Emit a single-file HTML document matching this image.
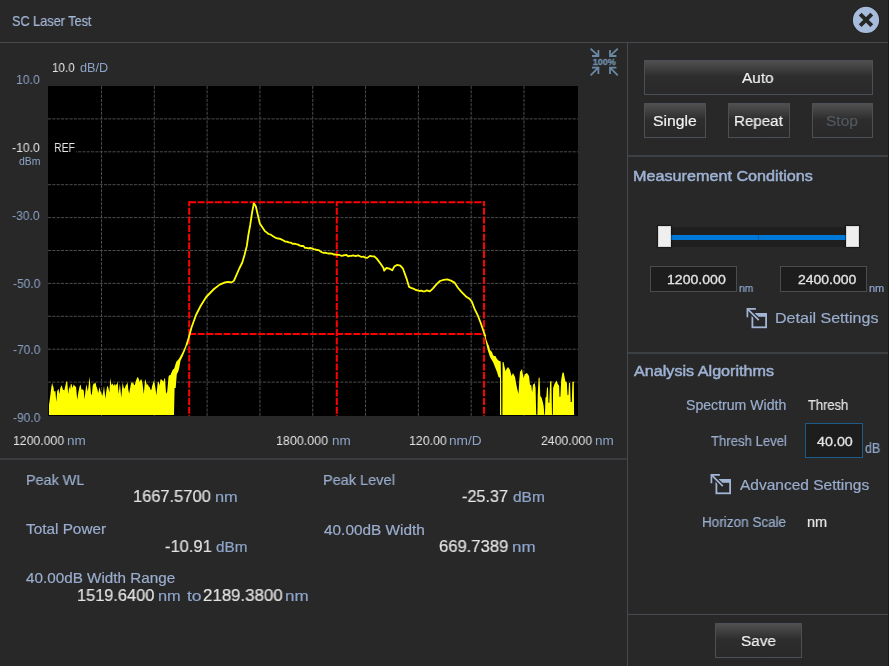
<!DOCTYPE html>
<html><head><meta charset="utf-8"><title>SC Laser Test</title>
<style>
html,body{margin:0;padding:0}
body{width:891px;height:666px;background:#ffffff;position:relative;overflow:hidden;font-family:"Liberation Sans",sans-serif}
.t{position:absolute;line-height:0;white-space:pre;transform-origin:0 0;will-change:transform}
.ln{position:absolute;background:#46494d}
.btn{position:absolute;box-sizing:border-box;border:1px solid #4a5055;background:linear-gradient(#505050,#2d2d2d 47%,#292929)}
.inp{position:absolute;box-sizing:border-box;border:1px solid #4a4c4e;background:#1d1d1d}
</style></head><body>
<div style="position:absolute;left:0;top:0;width:888px;height:666px;background:#282828"></div>
<div style="position:absolute;left:888px;top:0;width:1px;height:666px;background:#1b1b1b"></div>

<div class="ln" style="left:0;top:42px;width:888px;height:1px"></div>
<div class="ln" style="left:627px;top:43px;width:1px;height:623px"></div>
<div class="ln" style="left:0;top:458px;width:627px;height:2px;background:#393b3e"></div>
<div class="ln" style="left:628px;top:155px;width:260px;height:2px;background:#3e4144"></div>
<div class="ln" style="left:628px;top:352px;width:260px;height:2px;background:#3d4043"></div>
<div class="ln" style="left:628px;top:614px;width:260px;height:1px"></div>

<div class="btn" style="left:644px;top:60px;width:229px;height:35px"></div>
<div class="btn" style="left:644px;top:103px;width:62px;height:35px"></div>
<div class="btn" style="left:728px;top:103px;width:62px;height:35px"></div>
<div class="btn" style="left:812px;top:103px;width:61px;height:35px"></div>
<div class="btn" style="left:715px;top:623px;width:87px;height:35px"></div>
<div class="inp" style="left:650px;top:266px;width:87px;height:26px"></div>
<div class="inp" style="left:780px;top:266px;width:87px;height:26px"></div>
<div class="inp" style="left:805px;top:423px;width:58px;height:35px;border-color:#1d5c8a"></div>
<div style="position:absolute;left:660px;top:227px;width:197px;height:20px;background:#1f1f1f"></div>
<div style="position:absolute;left:671px;top:235px;width:175px;height:5px;background:#0078d7"></div>
<div style="position:absolute;left:758px;top:235px;width:1px;height:5px;background:#0a5fa8"></div>
<div style="position:absolute;left:658px;top:226px;width:13px;height:21px;box-sizing:border-box;border:1px solid #d6d6d6;background:#efefef;box-shadow:0 0 1px 1px rgba(0,0,0,.35)"></div>
<div style="position:absolute;left:846px;top:226px;width:13px;height:21px;box-sizing:border-box;border:1px solid #d6d6d6;background:#efefef;box-shadow:0 0 1px 1px rgba(0,0,0,.35)"></div>
<svg width="891" height="666" style="position:absolute;left:0;top:0">
<defs><clipPath id="cc"><rect x="48" y="86" width="530" height="330"/></clipPath></defs>
<rect x="48" y="86" width="530" height="330" fill="#000"/>
<g clip-path="url(#cc)">
<g stroke="#4c4c4c" stroke-width="1" stroke-dasharray="3.1 1.2" fill="none">
<line x1="101.50" y1="86" x2="101.50" y2="416"/>
<line x1="154.31" y1="86" x2="154.31" y2="416"/>
<line x1="207.12" y1="86" x2="207.12" y2="416"/>
<line x1="259.93" y1="86" x2="259.93" y2="416"/>
<line x1="312.74" y1="86" x2="312.74" y2="416"/>
<line x1="365.55" y1="86" x2="365.55" y2="416"/>
<line x1="418.36" y1="86" x2="418.36" y2="416"/>
<line x1="471.17" y1="86" x2="471.17" y2="416"/>
<line x1="523.98" y1="86" x2="523.98" y2="416"/>
<line x1="48" y1="118.90" x2="578" y2="118.90"/>
<line x1="48" y1="151.80" x2="578" y2="151.80"/>
<line x1="48" y1="184.70" x2="578" y2="184.70"/>
<line x1="48" y1="217.60" x2="578" y2="217.60"/>
<line x1="48" y1="250.50" x2="578" y2="250.50"/>
<line x1="48" y1="283.40" x2="578" y2="283.40"/>
<line x1="48" y1="316.30" x2="578" y2="316.30"/>
<line x1="48" y1="349.20" x2="578" y2="349.20"/>
<line x1="48" y1="382.10" x2="578" y2="382.10"/>
</g>
<g stroke="#ff0000" stroke-width="2" stroke-dasharray="7.05 1.6" fill="none">
<path d="M188.2,202.15 H485" stroke-dashoffset="7.9"/>
<path d="M188.2,333.9 H485" stroke-dashoffset="7.9"/>
<path d="M189.2,201.15 V416" stroke-dashoffset="2.05"/>
<path d="M336.8,201.15 V416" stroke-dashoffset="2.05"/>
<path d="M484,201.15 V416" stroke-dashoffset="2.05"/>
</g>
<polygon points="49.0,415.0 49.0,405.0 50.0,397.8 51.3,387.5 52.1,382.8 52.8,385.6 53.6,387.5 54.0,391.5 55.4,391.1 56.3,401.9 57.2,391.1 58.5,388.8 59.4,394.3 60.3,387.9 61.7,385.2 63.0,389.7 64.4,390.2 65.7,384.3 66.5,381.2 67.3,382.1 68.2,394.2 69.3,386.1 70.1,389.7 70.8,383.7 71.6,384.3 72.5,387.9 73.8,384.3 74.6,385.8 75.3,386.4 76.1,387.0 77.2,400.1 78.3,392.4 79.7,386.1 80.6,384.6 81.5,389.7 82.6,389.3 83.7,390.6 84.6,399.6 85.5,390.5 86.4,384.3 87.8,391.5 88.7,384.7 89.6,376.7 91.0,394.2 91.8,394.7 92.7,386.1 93.6,383.6 94.6,383.4 95.5,382.5 96.4,386.5 97.3,388.8 98.2,393.3 99.5,387.0 100.4,390.9 101.3,393.3 102.2,396.0 103.1,392.5 104.0,385.7 105.4,398.7 106.3,391.3 107.2,385.7 108.3,387.4 109.4,392.4 110.3,378.0 111.4,385.2 112.5,383.3 113.6,386.1 114.4,383.5 115.1,386.1 115.9,384.3 116.8,384.6 117.7,381.6 118.6,394.2 119.9,383.4 121.3,397.8 122.6,382.5 124.0,388.8 124.9,387.9 125.8,385.2 126.7,384.2 127.6,382.5 128.3,389.6 129.1,393.8 129.9,389.4 130.7,385.2 131.5,382.1 132.2,383.4 133.0,381.6 133.9,384.8 134.8,385.2 135.7,381.5 136.6,378.9 137.7,376.8 138.8,378.9 139.7,382.0 140.6,379.4 141.5,379.4 142.4,382.5 143.8,394.2 145.1,378.9 146.0,381.6 146.9,385.2 147.8,384.0 148.7,386.6 149.6,387.0 150.5,389.8 151.4,389.7 152.3,385.6 153.2,382.8 154.1,380.3 154.9,384.9 155.6,389.3 156.4,395.6 157.7,382.5 158.6,381.4 159.6,385.5 160.5,379.4 161.6,379.5 162.7,380.7 163.5,381.8 164.2,379.0 165.0,378.0 166.1,394.0 167.2,391.5 168.6,376.2 169.5,376.8 170.4,376.3 171.3,374.4 172.6,370.8 173.1,372.0 173.1,415.0" fill="#ffff00"/>
<polygon points="500.0,415.0 500.0,361.0 500.6,362.0 501.1,378.0 501.3,414.9 502.4,414.9 502.6,362.0 503.5,362.0 505.5,371.0 506.5,369.0 508.0,367.0 510.0,370.0 511.5,376.0 513.0,373.0 515.0,377.0 517.0,388.0 518.5,394.0 519.3,380.0 520.0,372.0 522.0,369.0 523.5,378.0 525.0,374.0 527.0,373.0 529.0,376.0 530.0,384.8 531.3,385.3 532.1,392.5 533.0,384.8 534.7,383.1 535.6,388.3 536.2,414.8 537.4,414.8 537.7,395.1 538.6,378.0 539.6,377.6 540.3,396.0 541.6,397.7 542.8,402.0 543.7,406.2 544.3,414.8 545.0,414.8 545.4,397.7 546.3,396.8 547.0,387.4 548.0,387.4 548.4,402.8 549.3,402.8 550.1,381.4 551.4,381.0 552.0,414.8 552.8,414.8 553.1,388.3 554.4,384.0 556.5,380.5 557.8,384.0 559.1,385.7 559.5,396.8 560.4,396.8 561.2,379.7 562.5,372.4 563.8,372.8 564.7,378.0 565.5,381.4 566.8,382.3 567.5,395.1 568.4,395.1 569.0,383.1 570.1,383.1 570.7,402.0 571.8,402.0 572.4,381.8 573.8,381.8 574.1,414.8 574.1,415.0" fill="#ffff00"/>
<polygon points="484.5,333.0 485.5,336.0 486.5,340.0 488.0,344.0 489.0,346.0 490.0,350.0 492.0,352.0 493.0,355.0 494.0,356.0 495.5,356.0 497.0,359.0 499.0,361.0 500.2,361.0 500.2,378.0 498.5,377.0 497.0,372.0 495.0,367.0 493.0,362.0 490.0,357.0 488.0,351.0 486.5,345.0 485.2,338.5 484.3,335.0" fill="#ffff00"/>
<polygon points="168.9,415.0 168.9,375.4 170.5,374.9 172.6,370.1 174.2,368.6 176.3,361.7 178.4,359.6 179.4,358.1 182.0,353.3 184.7,347.6 187.3,340.7 189.4,334.4 190.5,331.5 190.5,333.5 189.4,336.5 187.8,342.8 185.2,350.2 182.6,356.5 180.5,360.7 179.4,367.0 178.4,371.2 176.8,374.3 175.7,388.0 174.6,388.0 174.0,415.0" fill="#ffff00"/>
<polyline points="186.5,345.3 188.8,337.5 191.5,327.5 196.0,315.0 200.6,306.0 206.2,297.0 214.0,289.0 219.7,284.6 225.0,282.4 228.0,281.8 231.8,282.4 234.0,280.6 236.3,275.3 239.3,268.5 242.3,262.5 244.5,255.0 246.8,246.0 248.3,235.5 250.2,225.0 252.0,213.0 253.8,203.3 255.8,206.3 257.7,214.5 259.8,223.5 261.8,226.5 264.8,231.0 266.6,232.4 268.5,234.0 270.8,234.6 273.0,236.3 275.2,237.6 277.5,238.5 279.4,238.6 281.2,239.4 283.1,240.3 285.0,241.5 286.9,241.6 288.8,242.4 290.6,242.6 292.5,243.8 294.4,243.6 296.2,244.2 298.1,244.6 300.0,245.6 301.7,246.0 303.4,246.0 305.0,247.8 306.7,247.8 308.4,248.3 310.1,248.0 311.8,248.4 313.5,249.1 315.2,249.4 316.9,250.0 318.5,250.1 320.2,251.2 321.9,252.2 323.5,252.9 325.2,252.7 326.9,253.2 328.6,253.5 330.3,253.3 332.0,253.6 333.7,254.5 335.4,254.5 337.0,254.9 339.0,254.8 341.1,255.8 343.1,255.5 344.8,255.1 346.5,255.0 348.1,256.4 349.8,255.9 351.5,255.9 353.2,255.4 354.9,256.0 356.6,255.9 358.3,255.4 360.0,256.2 361.6,257.0 363.3,256.5 365.3,257.7 367.3,257.9 370.0,255.9 372.1,256.4 374.1,256.3 376.8,258.6 380.8,264.0 383.5,268.0 384.2,270.7 386.2,268.0 389.6,268.7 392.3,270.3 394.3,266.6 397.0,264.9 400.3,265.7 403.0,268.7 406.4,278.1 409.1,286.9 411.8,288.2 413.8,288.8 415.8,290.0 417.7,290.3 419.6,291.0 421.4,290.7 423.2,291.4 425.0,291.3 426.8,290.4 429.8,291.4 432.8,288.6 436.4,284.4 440.0,281.0 443.6,279.9 447.3,279.4 450.9,280.6 454.5,282.6 458.1,288.0 461.7,292.2 465.9,296.4 469.5,298.8 471.9,301.8 474.9,309.7 477.9,315.7 480.9,323.5 483.9,332.5 485.5,336.5" fill="none" stroke="#ffff00" stroke-width="1.8" stroke-linejoin="round"/>
</g>
</svg>
<div style="position:absolute;left:48px;top:142px;width:28px;height:12px;background:#000"></div>
<svg width="32" height="32" style="position:absolute;left:588px;top:46px" viewBox="588 46 32 32">
<g fill="none" stroke="#6b88a4" stroke-width="1.8">
<path d="M590.6,48.6 L597.8,55.4 M592,56 H598.4 V50"/>
<path d="M617.8,48.6 L610.6,55.4 M616.4,56 H610 V50"/>
<path d="M590.6,75.4 L597.8,68.2 M592,67.6 H598.4 V74"/>
<path d="M617.8,75.4 L610.6,68.2 M616.4,67.6 H610 V74"/>
</g>
<text x="592.7" y="65.4" style="font-family:'Liberation Sans',sans-serif;font-weight:bold;font-size:9.4px" fill="#6b88a4" stroke="#6b88a4" stroke-width="0.35" textLength="23.2" lengthAdjust="spacingAndGlyphs">100%</text>
</svg>
<svg width="30" height="30" style="position:absolute;left:851px;top:5px" viewBox="851 5 30 30">
<circle cx="866" cy="19.9" r="13.6" fill="#1e1e1e"/>
<circle cx="866" cy="19.9" r="13.1" fill="#a7bcdc"/>
<g stroke="#262626" stroke-width="3.9"><line x1="860.2" y1="14.1" x2="871.8" y2="25.7"/><line x1="871.8" y1="14.1" x2="860.2" y2="25.7"/></g>
</svg>
<svg width="24" height="24" style="position:absolute;left:744px;top:306px" viewBox="744 306 24 24">
<rect x="752.4" y="313.9" width="13.7" height="13.4" fill="none" stroke="#a3b5d5" stroke-width="1.8"/>
<rect x="753" y="313" width="14" height="3.8" fill="#a3b5d5"/>
<path d="M746,307.5 L760.2,321.5" stroke="#282828" stroke-width="4.2"/>
<g fill="none" stroke="#a3b5d5" stroke-width="1.7">
<path d="M747.4,317.2 V308.8 H755.9"/>
<path d="M748.2,309.6 L758.8,320.2"/>
</g>
</svg>
<svg width="24" height="24" style="position:absolute;left:708px;top:472px" viewBox="744 306 24 24">
<rect x="752.4" y="313.9" width="13.7" height="13.4" fill="none" stroke="#a3b5d5" stroke-width="1.8"/>
<rect x="753" y="313" width="14" height="3.8" fill="#a3b5d5"/>
<path d="M746,307.5 L760.2,321.5" stroke="#282828" stroke-width="4.2"/>
<g fill="none" stroke="#a3b5d5" stroke-width="1.7">
<path d="M747.4,317.2 V308.8 H755.9"/>
<path d="M748.2,309.6 L758.8,320.2"/>
</g>
</svg>
<div class="t" style="left:12.11px;top:21px;font-size:14.3px;color:#a5b8d8;-webkit-text-stroke:0.2px #a5b8d8;transform:scaleX(0.8876);">SC Laser Test</div>
<div class="t" style="left:51.98px;top:68px;font-size:12.7px;color:#e4e4e4;transform:scaleX(0.9167);">10.0</div>
<div class="t" style="left:79.80px;top:68px;font-size:12.7px;color:#8da3c6;transform:scaleX(0.9929);">dB/D</div>
<div class="t" style="left:16.24px;top:80px;font-size:12.7px;color:#8da3c6;transform:scaleX(0.9625);">10.0</div>
<div class="t" style="left:12.20px;top:148px;font-size:12.7px;color:#e4e4e4;transform:scaleX(0.9655);">-10.0</div>
<div class="t" style="left:18.90px;top:162px;font-size:10.3px;color:#8da3c6;transform:scaleX(1.0143);">dBm</div>
<div class="t" style="left:12.40px;top:216px;font-size:12.7px;color:#8da3c6;transform:scaleX(0.9586);">-30.0</div>
<div class="t" style="left:12.50px;top:284px;font-size:12.7px;color:#8da3c6;transform:scaleX(0.9483);">-50.0</div>
<div class="t" style="left:12.50px;top:350px;font-size:12.7px;color:#8da3c6;transform:scaleX(0.9483);">-70.0</div>
<div class="t" style="left:12.50px;top:418px;font-size:12.7px;color:#8da3c6;transform:scaleX(0.9483);">-90.0</div>
<div class="t" style="left:53.97px;top:148px;font-size:12.7px;color:#e4e4e4;transform:scaleX(0.8250);">REF</div>
<div class="t" style="left:12.57px;top:441px;font-size:13.2px;color:#e4e4e4;transform:scaleX(0.9296);">1200.000</div>
<div class="t" style="left:66.88px;top:441px;font-size:13.2px;color:#8da3c6;transform:scaleX(1.0235);">nm</div>
<div class="t" style="left:276.45px;top:441px;font-size:13.2px;color:#e4e4e4;transform:scaleX(0.9463);">1800.000</div>
<div class="t" style="left:331.68px;top:441px;font-size:13.2px;color:#8da3c6;transform:scaleX(1.0235);">nm</div>
<div class="t" style="left:408.56px;top:441px;font-size:13.2px;color:#e4e4e4;transform:scaleX(0.9359);">120.00</div>
<div class="t" style="left:449.16px;top:441px;font-size:13.2px;color:#8da3c6;transform:scaleX(1.0367);">nm/D</div>
<div class="t" style="left:541.10px;top:441px;font-size:13.2px;color:#e4e4e4;transform:scaleX(0.9291);">2400.000</div>
<div class="t" style="left:595.38px;top:441px;font-size:13.2px;color:#8da3c6;transform:scaleX(1.0235);">nm</div>
<div class="t" style="left:25.54px;top:480px;font-size:15px;color:#9aadcd;-webkit-text-stroke:0.2px #9aadcd;transform:scaleX(0.9583);">Peak WL</div>
<div class="t" style="left:133.43px;top:497px;font-size:17px;color:#e4e4e4;-webkit-text-stroke:0.2px #e4e4e4;transform:scaleX(0.9671);">1667.5700</div>
<div class="t" style="left:215.21px;top:497px;font-size:15px;color:#8ea5cb;-webkit-text-stroke:0.2px #8ea5cb;transform:scaleX(1.0895);">nm</div>
<div class="t" style="left:26.00px;top:529px;font-size:15px;color:#9aadcd;-webkit-text-stroke:0.2px #9aadcd;transform:scaleX(1.0218);">Total Power</div>
<div class="t" style="left:164.60px;top:547px;font-size:17px;color:#e4e4e4;-webkit-text-stroke:0.2px #e4e4e4;transform:scaleX(0.9708);">-10.91</div>
<div class="t" style="left:215.80px;top:547px;font-size:15px;color:#8ea5cb;-webkit-text-stroke:0.2px #8ea5cb;transform:scaleX(1.0167);">dBm</div>
<div class="t" style="left:26.00px;top:578px;font-size:15px;color:#9aadcd;-webkit-text-stroke:0.2px #9aadcd;transform:scaleX(1.0163);">40.00dB Width Range</div>
<div class="t" style="left:76.94px;top:596px;font-size:17px;color:#e4e4e4;-webkit-text-stroke:0.2px #e4e4e4;transform:scaleX(0.9620);">1519.6400</div>
<div class="t" style="left:158.21px;top:596px;font-size:15px;color:#8ea5cb;-webkit-text-stroke:0.2px #8ea5cb;transform:scaleX(1.0895);">nm</div>
<div class="t" style="left:187.00px;top:596px;font-size:15px;color:#8ea5cb;-webkit-text-stroke:0.2px #8ea5cb;transform:scaleX(1.1667);">to</div>
<div class="t" style="left:202.71px;top:596px;font-size:17px;color:#e4e4e4;-webkit-text-stroke:0.2px #e4e4e4;transform:scaleX(0.9911);">2189.3800</div>
<div class="t" style="left:285.17px;top:596px;font-size:15px;color:#8ea5cb;-webkit-text-stroke:0.2px #8ea5cb;transform:scaleX(1.1316);">nm</div>
<div class="t" style="left:322.93px;top:480px;font-size:15px;color:#9aadcd;-webkit-text-stroke:0.2px #9aadcd;transform:scaleX(0.9671);">Peak Level</div>
<div class="t" style="left:461.80px;top:497px;font-size:17px;color:#e4e4e4;-webkit-text-stroke:0.2px #e4e4e4;transform:scaleX(0.9542);">-25.37</div>
<div class="t" style="left:513.00px;top:497px;font-size:15px;color:#8ea5cb;-webkit-text-stroke:0.2px #8ea5cb;transform:scaleX(1.0333);">dBm</div>
<div class="t" style="left:323.60px;top:530px;font-size:15px;color:#9aadcd;-webkit-text-stroke:0.2px #9aadcd;transform:scaleX(1.0255);">40.00dB Width</div>
<div class="t" style="left:438.72px;top:547px;font-size:17px;color:#e4e4e4;-webkit-text-stroke:0.2px #e4e4e4;transform:scaleX(0.9771);">669.7389</div>
<div class="t" style="left:511.87px;top:547px;font-size:15px;color:#8ea5cb;-webkit-text-stroke:0.2px #8ea5cb;transform:scaleX(1.1316);">nm</div>
<div class="t" style="left:742.40px;top:78px;font-size:15.5px;color:#f2f2f2;-webkit-text-stroke:0.2px #f2f2f2;transform:scaleX(0.9906);">Auto</div>
<div class="t" style="left:652.99px;top:121px;font-size:15.5px;color:#f2f2f2;-webkit-text-stroke:0.2px #f2f2f2;transform:scaleX(1.0143);">Single</div>
<div class="t" style="left:734.02px;top:121px;font-size:15.5px;color:#f2f2f2;-webkit-text-stroke:0.2px #f2f2f2;transform:scaleX(0.9755);">Repeat</div>
<div class="t" style="left:826.20px;top:121px;font-size:15.5px;color:#535960;-webkit-text-stroke:0.2px #535960;">Stop</div>
<div class="t" style="left:633.46px;top:176px;font-size:15.5px;color:#9eb2d4;-webkit-text-stroke:0.5px #9eb2d4;transform:scaleX(1.0439);">Measurement Conditions</div>
<div class="t" style="left:666.52px;top:280px;font-size:13px;color:#e4e4e4;-webkit-text-stroke:0.3px #e4e4e4;transform:scaleX(1.0830);">1200.000</div>
<div class="t" style="left:738.90px;top:288px;font-size:11px;color:#8ea5cb;-webkit-text-stroke:0.2px #8ea5cb;transform:scaleX(0.9400);">nm</div>
<div class="t" style="left:797.70px;top:280px;font-size:13px;color:#e4e4e4;-webkit-text-stroke:0.3px #e4e4e4;transform:scaleX(1.0759);">2400.000</div>
<div class="t" style="left:869.00px;top:288px;font-size:11px;color:#8ea5cb;-webkit-text-stroke:0.2px #8ea5cb;">nm</div>
<div class="t" style="left:775.39px;top:318px;font-size:14.5px;color:#9aadcd;-webkit-text-stroke:0.2px #9aadcd;transform:scaleX(1.1065);">Detail Settings</div>
<div class="t" style="left:634.30px;top:371px;font-size:15.5px;color:#9eb2d4;-webkit-text-stroke:0.5px #9eb2d4;transform:scaleX(1.0425);">Analysis Algorithms</div>
<div class="t" style="left:685.99px;top:405px;font-size:14px;color:#9aadcd;-webkit-text-stroke:0.2px #9aadcd;transform:scaleX(1.0071);">Spectrum Width</div>
<div class="t" style="left:807.80px;top:405px;font-size:14px;color:#e4e4e4;-webkit-text-stroke:0.2px #e4e4e4;transform:scaleX(0.9233);">Thresh</div>
<div class="t" style="left:710.80px;top:441px;font-size:14px;color:#9aadcd;-webkit-text-stroke:0.2px #9aadcd;transform:scaleX(0.9388);">Thresh Level</div>
<div class="t" style="left:816.80px;top:442px;font-size:13px;color:#e4e4e4;-webkit-text-stroke:0.3px #e4e4e4;transform:scaleX(1.1000);">40.00</div>
<div class="t" style="left:864.80px;top:448px;font-size:14px;color:#8ea5cb;-webkit-text-stroke:0.2px #8ea5cb;transform:scaleX(0.8941);">dB</div>
<div class="t" style="left:740.00px;top:485px;font-size:14.5px;color:#9aadcd;-webkit-text-stroke:0.2px #9aadcd;transform:scaleX(1.0686);">Advanced Settings</div>
<div class="t" style="left:701.93px;top:522px;font-size:14px;color:#9aadcd;-webkit-text-stroke:0.2px #9aadcd;transform:scaleX(0.9651);">Horizon Scale</div>
<div class="t" style="left:806.76px;top:522px;font-size:14px;color:#e4e4e4;-webkit-text-stroke:0.2px #e4e4e4;transform:scaleX(1.0389);">nm</div>
<div class="t" style="left:740.81px;top:641px;font-size:15.5px;color:#f2f2f2;-webkit-text-stroke:0.2px #f2f2f2;transform:scaleX(0.9882);">Save</div>
</body></html>
